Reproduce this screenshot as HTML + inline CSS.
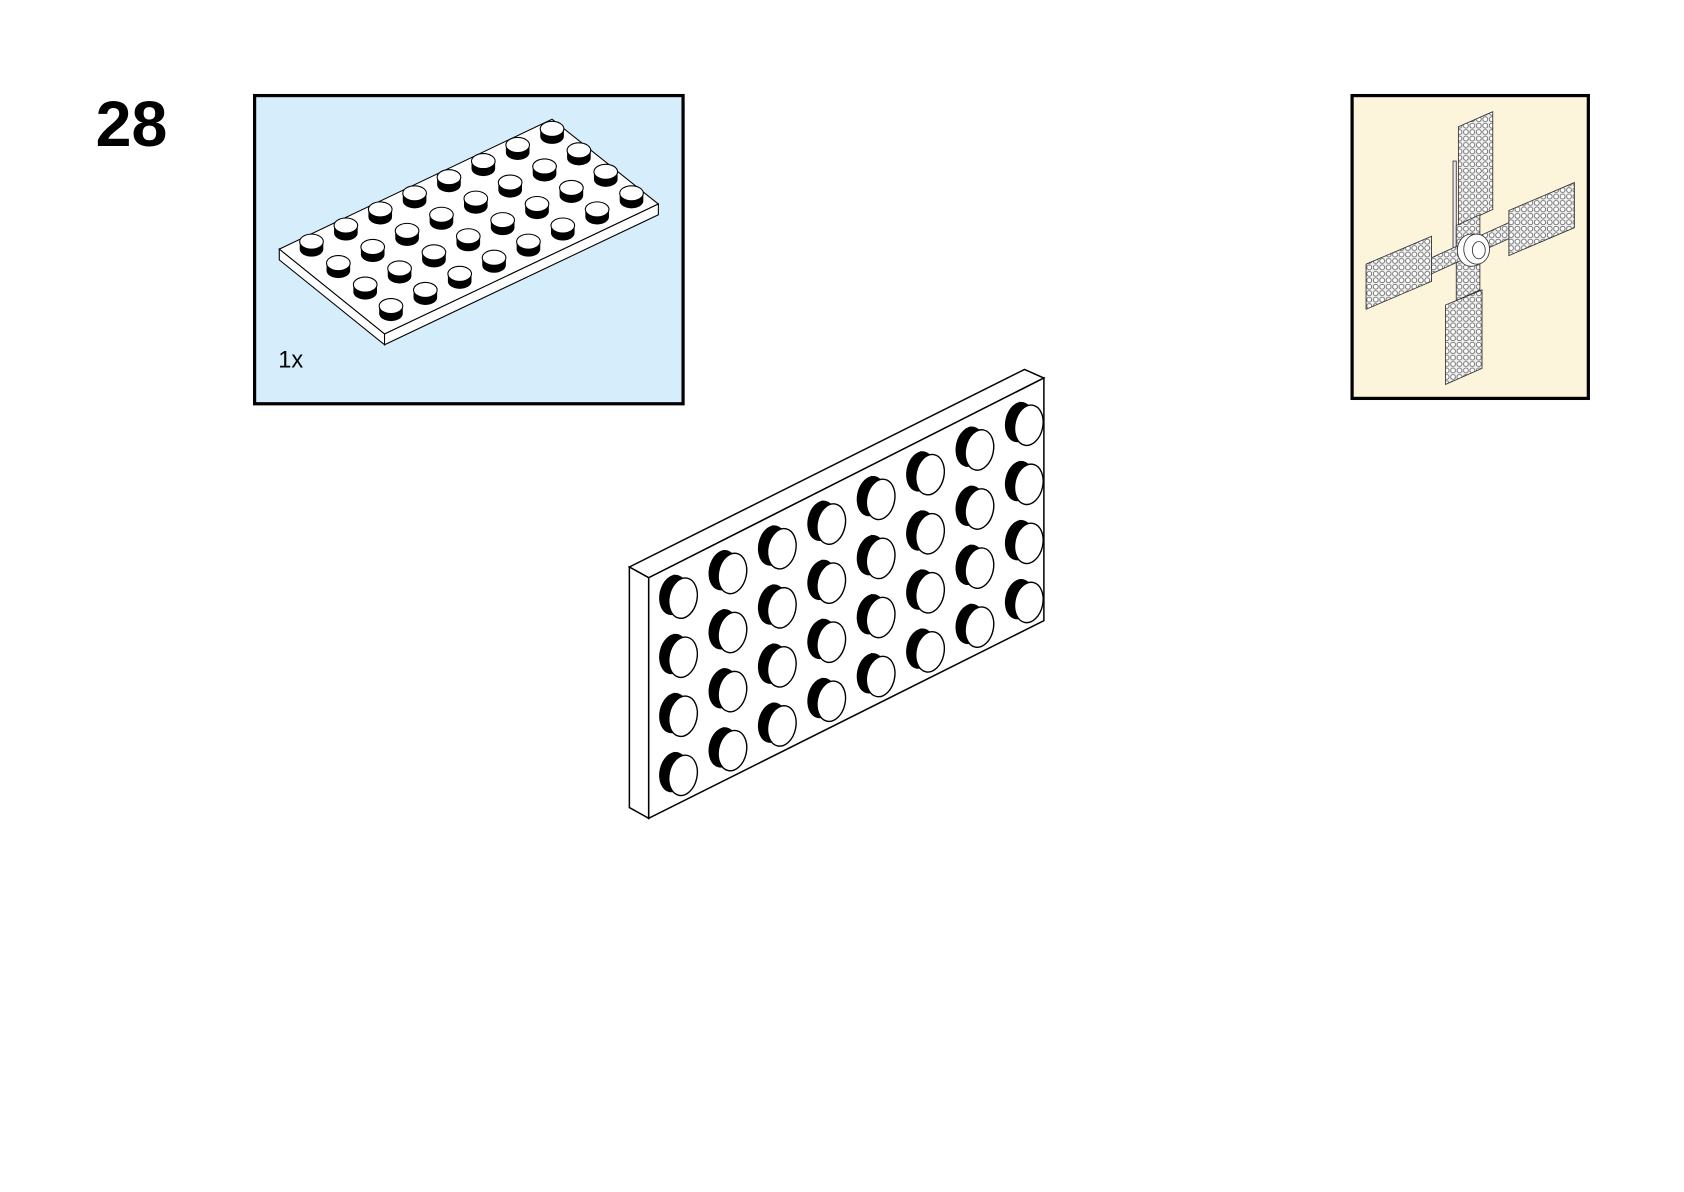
<!DOCTYPE html>
<html><head><meta charset="utf-8"><style>html,body{margin:0;padding:0;background:#fff}svg{display:block}</style></head><body>
<svg width="1684" height="1192" viewBox="0 0 1568 1110" xmlns="http://www.w3.org/2000/svg">
<defs>
<pattern id="dots" width="6" height="6" patternUnits="userSpaceOnUse">
<rect width="6" height="6" fill="#f0f0f0"/><circle cx="3" cy="3" r="2.3" fill="#fff" stroke="#555" stroke-width="0.7"/>
</pattern>
<g id="bs"><ellipse cx="-9" cy="-3" rx="13" ry="19" transform="rotate(12 -9 -3)" fill="#000"/><path d="M-9,-22 L0,-19 L0,19 L-9,16Z" fill="#000"/><ellipse cx="0" cy="0" rx="13" ry="19" transform="rotate(12)" fill="#fff" stroke="#000" stroke-width="1.3"/></g>
<g id="ss"><path d="M-11,0 L-11,6 A11,7 0 0 0 11,6 L11,0Z" fill="#000"/><ellipse cx="0" cy="-1" rx="11" ry="7" fill="#fff" stroke="#000" stroke-width="1"/></g>
</defs>
<text x="89" y="136" font-family="Liberation Sans, sans-serif" font-weight="bold" font-size="60">28</text>
<rect x="237" y="89" width="399" height="287" fill="#d6edfc" stroke="#000" stroke-width="3"/>
<text x="259" y="342" font-family="Liberation Sans, sans-serif" font-size="22">1x</text>
<path d="M260,232 L514,111 L613,190 L358,311 Z" fill="#fff" stroke="#000" stroke-width="1"/>
<path d="M260,232 L358,311 L358,321 L260,242 Z" fill="#fff" stroke="#000" stroke-width="1"/>
<path d="M358,311 L613,190 L613,200 L358,321 Z" fill="#fff" stroke="#000" stroke-width="1"/>
<g>
<use href="#ss" x="514" y="121"/><use href="#ss" x="482" y="136"/><use href="#ss" x="450" y="151"/><use href="#ss" x="418" y="166"/><use href="#ss" x="386" y="181"/><use href="#ss" x="354" y="196"/><use href="#ss" x="322" y="211"/><use href="#ss" x="290" y="226"/>
<use href="#ss" x="539" y="141"/><use href="#ss" x="507" y="156"/><use href="#ss" x="475" y="171"/><use href="#ss" x="443" y="186"/><use href="#ss" x="411" y="201"/><use href="#ss" x="379" y="216"/><use href="#ss" x="347" y="231"/><use href="#ss" x="315" y="246"/>
<use href="#ss" x="564" y="161"/><use href="#ss" x="532" y="176"/><use href="#ss" x="500" y="191"/><use href="#ss" x="468" y="206"/><use href="#ss" x="436" y="221"/><use href="#ss" x="404" y="236"/><use href="#ss" x="372" y="251"/><use href="#ss" x="340" y="266"/>
<use href="#ss" x="588" y="181"/><use href="#ss" x="556" y="196"/><use href="#ss" x="524" y="211"/><use href="#ss" x="492" y="226"/><use href="#ss" x="460" y="241"/><use href="#ss" x="428" y="256"/><use href="#ss" x="396" y="271"/><use href="#ss" x="364" y="286"/>
</g>
<rect x="1259" y="89" width="220" height="282" fill="#fdf4dc" stroke="#000" stroke-width="3"/>
<g stroke="#333" stroke-width="0.8">
<path d="M1353,150 L1356,150 L1356,232 L1353,232Z" fill="#eee"/>
<path d="M1358,118 L1390,104 L1390,195 L1358,210Z" fill="url(#dots)"/>
<path d="M1356,210 L1378,200 L1378,270 L1356,280Z" fill="url(#dots)"/>
<path d="M1333,240 L1410,205 L1410,220 L1333,255Z" fill="url(#dots)"/>
<path d="M1272,246 L1333,220 L1333,262 L1272,288Z" fill="url(#dots)"/>
<path d="M1405,196 L1466,170 L1466,212 L1405,238Z" fill="url(#dots)"/>
<path d="M1346,284 L1380,270 L1380,343 L1346,358Z" fill="url(#dots)"/>
<ellipse cx="1370" cy="233" rx="13" ry="15" fill="#fff"/><ellipse cx="1375" cy="232" rx="12" ry="14" fill="#fff"/><ellipse cx="1377" cy="233" rx="6" ry="8" fill="#fff"/>
</g>
<path d="M586,528 L954,344 L972,352 L604,538 Z" fill="#fff" stroke="#000" stroke-width="1.4"/>
<path d="M586,528 L604,538 L604,762 L586,752 Z" fill="#fff" stroke="#000" stroke-width="1.4"/>
<path d="M604,538 L972,352 L972,578 L604,762 Z" fill="#fff" stroke="#000" stroke-width="1.4"/>
<g transform="translate(2,2)">
<use href="#bs" x="634" y="555"/><use href="#bs" x="634" y="610"/><use href="#bs" x="634" y="665"/><use href="#bs" x="634" y="720"/>
<use href="#bs" x="680" y="532"/><use href="#bs" x="680" y="587"/><use href="#bs" x="680" y="642"/><use href="#bs" x="680" y="697"/>
<use href="#bs" x="726" y="509"/><use href="#bs" x="726" y="564"/><use href="#bs" x="726" y="619"/><use href="#bs" x="726" y="674"/>
<use href="#bs" x="772" y="486"/><use href="#bs" x="772" y="541"/><use href="#bs" x="772" y="596"/><use href="#bs" x="772" y="651"/>
<use href="#bs" x="818" y="463"/><use href="#bs" x="818" y="518"/><use href="#bs" x="818" y="573"/><use href="#bs" x="818" y="628"/>
<use href="#bs" x="864" y="440"/><use href="#bs" x="864" y="495"/><use href="#bs" x="864" y="550"/><use href="#bs" x="864" y="605"/>
<use href="#bs" x="910" y="417"/><use href="#bs" x="910" y="472"/><use href="#bs" x="910" y="527"/><use href="#bs" x="910" y="582"/>
<use href="#bs" x="956" y="394"/><use href="#bs" x="956" y="449"/><use href="#bs" x="956" y="504"/><use href="#bs" x="956" y="559"/>
</g>
</svg>
</body></html>
